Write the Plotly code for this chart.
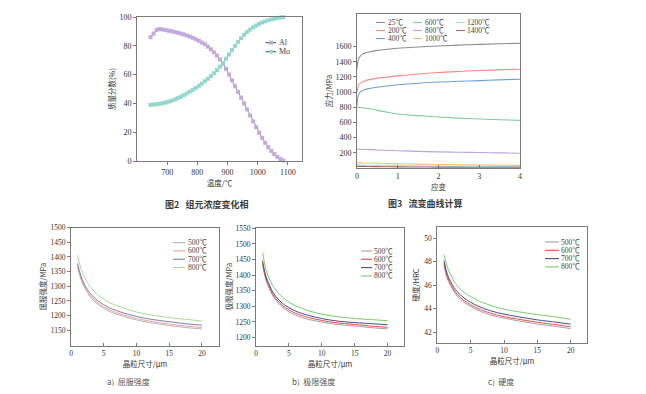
import plotly.graph_objects as go

# page has an 8px body margin: the figure is drawn 8px right/down of the window origin
OFF = 8
W, H = 646 - 2 * OFF, 394 - 2 * OFF
NUM = "Liberation Serif, Noto Sans CJK SC"
CJK = "Noto Sans CJK SC"
AX = "#7a7a7a"
TXT = "#333333"

# ---------------- Figure 2: component concentration ----------------
temp_c = [645, 655, 665, 675, 685, 695, 705, 715, 725, 735, 745, 755, 765, 775, 785,
          795, 805, 815, 825, 835, 845, 855, 865, 875, 885, 895, 905, 915, 925, 935,
          945, 955, 965, 975, 985, 995, 1005, 1015, 1025, 1035, 1045, 1055, 1065, 1075, 1085]
al_pct = [86.0, 88.5, 91.0, 91.6, 91.3, 90.9, 90.5, 90.1, 89.6, 89.1, 88.5, 87.9, 87.2, 86.4, 85.6,
          84.6, 83.5, 82.3, 81.0, 79.4, 77.6, 75.5, 73.2, 70.5, 67.5, 64.0, 60.0, 56.0, 52.0, 48.0,
          44.0, 40.0, 35.8, 31.6, 27.5, 23.4, 19.6, 16.0, 12.6, 9.6, 7.0, 4.8, 2.9, 1.4, 0.4]
mo_pct = [39.0, 39.2, 39.4, 39.7, 40.1, 40.6, 41.2, 41.9, 42.7, 43.6, 44.6, 45.7, 46.9, 48.2, 49.4,
          50.7, 52.2, 53.8, 55.4, 57.1, 59.0, 61.0, 63.2, 65.5, 68.0, 71.0, 74.0, 77.0, 80.0, 82.8,
          85.3, 87.6, 89.6, 91.3, 92.8, 94.1, 95.2, 96.2, 97.0, 97.7, 98.3, 98.8, 99.2, 99.6, 99.9]
conc_names = ["Al", "Mo"]
conc_colors = ["#c2a9df", "#92d8cc"]

# ---------------- Figure 3: flow curves ----------------
strain = [0, 0.02, 0.05, 0.1, 0.2, 0.3, 0.5, 0.75, 1, 1.5, 2, 2.5, 3, 3.5, 4]
flow_names = ["25℃", "200℃", "400℃", "600℃", "800℃", "1000℃", "1200℃", "1400℃"]
flow_colors = ["#8c8c8c", "#f28a86", "#6f9fd6", "#7fcf98", "#b9a3d9", "#e8c27a", "#a9dfe6", "#9c6a66"]
s25 = [1310, 1400, 1450, 1485, 1515, 1530, 1550, 1565, 1578, 1595, 1609, 1620, 1629, 1637, 1644]
s200 = [1000, 1060, 1100, 1125, 1150, 1165, 1185, 1200, 1215, 1240, 1259, 1273, 1285, 1294, 1302]
s400 = [820, 930, 980, 1010, 1035, 1048, 1065, 1082, 1097, 1118, 1133, 1143, 1152, 1162, 1170]
s600 = [800, 800, 798, 795, 788, 780, 760, 735, 712, 690, 673, 658, 646, 636, 628]
s800 = [248, 248, 247, 246, 244, 242, 238, 233, 228, 219, 212, 208, 204, 199, 195]
s1000 = [68, 68, 67, 67, 66, 65, 62, 58, 55, 51, 47, 43, 40, 37, 35]
s1200 = [38, 38, 38, 37, 37, 36, 34, 32, 30, 28, 26, 24, 22, 21, 20]
s1400 = [22, 22, 22, 21, 21, 20, 18, 17, 15, 13, 12, 11, 10, 9.5, 9]
flow_series = [s25, s200, s400, s600, s800, s1000, s1200, s1400]

# ---------------- Figure 4: properties vs grain size ----------------
grain = [1, 1.5, 2, 2.5, 3, 4, 5, 6, 8, 10, 12, 15, 18, 20]
prop_names = ["500℃", "600℃", "700℃", "800℃"]
yield_500 = [1366, 1325, 1298, 1278, 1262, 1240, 1225, 1213, 1197, 1185, 1176, 1166, 1158, 1154]
yield_600 = [1370, 1329, 1302, 1283, 1267, 1245, 1230, 1218, 1202, 1190, 1181, 1171, 1163, 1159]
yield_700 = [1378, 1336, 1309, 1290, 1274, 1252, 1237, 1225, 1209, 1197, 1188, 1179, 1171, 1167]
yield_800 = [1406, 1362, 1334, 1314, 1296, 1273, 1256, 1243, 1226, 1212, 1203, 1193, 1186, 1181]
uts_500 = [1433, 1385, 1358, 1336, 1320, 1298, 1283, 1272, 1258, 1250, 1243, 1237, 1231, 1228]
uts_600 = [1438, 1390, 1363, 1341, 1325, 1303, 1289, 1278, 1264, 1255, 1248, 1242, 1236, 1233]
uts_700 = [1446, 1397, 1370, 1348, 1332, 1310, 1296, 1285, 1271, 1261, 1254, 1248, 1244, 1241]
uts_800 = [1473, 1420, 1390, 1368, 1353, 1330, 1314, 1302, 1286, 1275, 1268, 1261, 1257, 1254]
hrc_500 = [47.73, 46.58, 45.97, 45.46, 45.07, 44.55, 44.18, 43.89, 43.46, 43.20, 42.98, 42.70, 42.47, 42.30]
hrc_600 = [47.87, 46.72, 46.10, 45.60, 45.22, 44.70, 44.33, 44.04, 43.61, 43.33, 43.12, 42.85, 42.62, 42.45]
hrc_700 = [48.10, 46.95, 46.32, 45.82, 45.44, 44.92, 44.55, 44.25, 43.82, 43.54, 43.33, 43.05, 42.84, 42.68]
hrc_800 = [48.64, 47.55, 46.90, 46.35, 45.95, 45.40, 45.04, 44.72, 44.28, 43.96, 43.76, 43.50, 43.28, 43.10]
yield_series = [yield_500, yield_600, yield_700, yield_800]
uts_series = [uts_500, uts_600, uts_700, uts_800]
hrc_series = [hrc_500, hrc_600, hrc_700, hrc_800]
prop_colors_a = ["#b5b5b5", "#f2a0a0", "#7e7eb0", "#a6de98"]
prop_colors_bc = ["#a0a0a0", "#ec4a4a", "#4a4a88", "#78cc66"]

ticks_t = [700, 800, 900, 1000, 1100]
ticks_pct = [0, 20, 40, 60, 80, 100]
ticks_strain = [0, 1, 2, 3, 4]
ticks_stress = [200, 400, 600, 800, 1000, 1200, 1400, 1600]
ticks_grain = [0, 5, 10, 15, 20]
ticks_yield = [1150, 1200, 1250, 1300, 1350, 1400, 1450, 1500]
ticks_uts = [1200, 1250, 1300, 1350, 1400, 1450, 1500, 1550]
ticks_hrc = [42, 44, 46, 48, 50]


def px(x):
    return (x - OFF) / W


def py(y):
    return 1 - (y - OFF) / H


fig = go.Figure()

# Figure 2 traces
for name, vals, col in zip(conc_names, [al_pct, mo_pct], conc_colors):
    fig.add_trace(go.Scatter(x=temp_c, y=vals, name=name, mode="lines+markers",
                             line=dict(color="#444444", width=0.6),
                             marker=dict(symbol="square", size=4, color=col, line=dict(width=0)),
                             xaxis="x", yaxis="y", cliponaxis=False))

# Figure 3 traces
for name, vals, col in zip(flow_names, flow_series, flow_colors):
    fig.add_trace(go.Scatter(x=strain, y=vals, name=name, mode="lines", line=dict(color=col, width=1.1, shape="spline"),
                             xaxis="x2", yaxis="y2"))

# Figure 4 traces
for k, (series, colors) in enumerate([(yield_series, prop_colors_a), (uts_series, prop_colors_bc), (hrc_series, prop_colors_bc)]):
    for name, vals, col in zip(prop_names, series, colors):
        fig.add_trace(go.Scatter(x=grain, y=vals, name=name, mode="lines", line=dict(color=col, width=1, shape="spline"),
                                 xaxis="x%d" % (k + 3), yaxis="y%d" % (k + 3)))


def axis(domain, rng, tickvals, title, anchor, ticks, standoff, tsize, titsize=7.5):
    return dict(domain=domain, range=rng, tickvals=tickvals,
                title=dict(text=title, font=dict(family=CJK, size=titsize, color=TXT), standoff=standoff),
                showline=True, linecolor=AX, linewidth=1, mirror=True,
                ticks=ticks, ticklen=3, tickwidth=1, tickcolor=AX,
                showgrid=False, zeroline=False,
                tickfont=dict(family=NUM, size=tsize, color=TXT), anchor=anchor, automargin=False)


lay = dict(width=W, height=H, margin=dict(l=0, r=0, t=0, b=0), paper_bgcolor="white", plot_bgcolor="white",
           showlegend=False)
lay["xaxis"] = axis([px(137), px(302)], [600, 1147], ticks_t, "温度/℃", "y", "outside", 4, 8)
lay["yaxis"] = axis([py(161), py(17)], [0, 100], ticks_pct, "质量分数(%)", "x", "outside", 2, 8)
lay["xaxis2"] = axis([px(357), px(520)], [0, 4], ticks_strain, "应变", "y2", "inside", 3, 8)
lay["yaxis2"] = axis([py(168), py(14)], [0, 2030], ticks_stress, "应力/MPa", "x2", "outside", 1, 8)
lay["xaxis3"] = axis([px(71), px(219)], [0, 22.6], ticks_grain, "晶粒尺寸/μm", "y3", "inside", 3, 7.5)
lay["yaxis3"] = axis([py(345.7), py(227.7)], [1097, 1500], ticks_yield, "屈服强度/MPa", "x3", "outside", 2, 7.5)
lay["xaxis4"] = axis([px(256), px(404)], [0, 22.5], ticks_grain, "晶粒尺寸/μm", "y4", "inside", 3, 7.5)
lay["yaxis4"] = axis([py(345.7), py(227.7)], [1174, 1552], ticks_uts, "极限强度/MPa", "x4", "outside", 1.5, 7.5)
lay["xaxis5"] = axis([px(437.3), px(586.7)], [0, 22.4], ticks_grain, "晶粒尺寸/μm", "y5", "inside", 3, 7.5)
lay["yaxis5"] = axis([py(343.3), py(226.7)], [41.05, 51], ticks_hrc, "硬度/HRC", "x5", "outside", 3, 7.5)

shapes = []
annotations = []


def legend_item(x0, x1, xt, y, name, color, size, marker_color=None, mx=None):
    shapes.append(dict(type="line", xref="paper", yref="paper", x0=px(x0), x1=px(x1), y0=py(y), y1=py(y),
                       line=dict(color=color, width=1.1)))
    if marker_color is not None:
        shapes.append(dict(type="rect", xref="paper", yref="paper", xsizemode="pixel", ysizemode="pixel",
                           xanchor=px(mx), yanchor=py(y), x0=-2, x1=2, y0=-2, y1=2,
                           fillcolor=marker_color, line=dict(width=0)))
    annotations.append(dict(text=name, xref="paper", yref="paper", x=px(xt), y=py(y), xanchor="left",
                            yanchor="middle", showarrow=False, borderpad=0,
                            font=dict(family=NUM, size=size, color="#444444")))


# legend of figure 2
for i, (name, col) in enumerate(zip(conc_names, conc_colors)):
    legend_item(265.5, 276, 277.5, 42.7 + 9 * i, name, "#555555", 8, marker_color=col, mx=271)

# legend of figure 3 (3 columns)
cols3 = [(376, 385, 386.5), (413, 422, 423.5), (456, 465, 466)]
for i, (name, col) in enumerate(zip(flow_names, flow_colors)):
    c, r = i // 3, i % 3
    x0, x1, xt = cols3[c]
    legend_item(x0, x1, xt, 22.5 + 8 * r, name, col, 7.5)

# legends of figure 4 panels
for (x0, x1, xt, ytop), colors in zip([(173, 185, 186.5, 242.6), (361, 372, 373, 251), (545, 559, 560, 242)],
                                      [prop_colors_a, prop_colors_bc, prop_colors_bc]):
    for i, (name, col) in enumerate(zip(prop_names, colors)):
        legend_item(x0, x1, xt, ytop + 8.3 * i, name, col, 7.5)

# captions
captions = [("<b>图2   组元浓度变化相</b>", 206.5, 204, 9, "#3a3a3a"),
            ("<b>图3   流变曲线计算</b>", 425, 203.5, 9, "#3a3a3a"),
            ("a)  屈服强度", 128.5, 381, 8, "#555555"),
            ("b)  极限强度", 313.5, 381, 8, "#555555"),
            ("c)  硬度", 500.5, 381, 8, "#555555")]
for text, x, y, size, col in captions:
    annotations.append(dict(text=text, xref="paper", yref="paper", x=px(x), y=py(y), xanchor="center",
                            yanchor="middle", showarrow=False, font=dict(family=CJK, size=size, color=col)))

lay["shapes"] = shapes
lay["annotations"] = annotations
fig.update_layout(**lay)
fig.write_html("out.html")
